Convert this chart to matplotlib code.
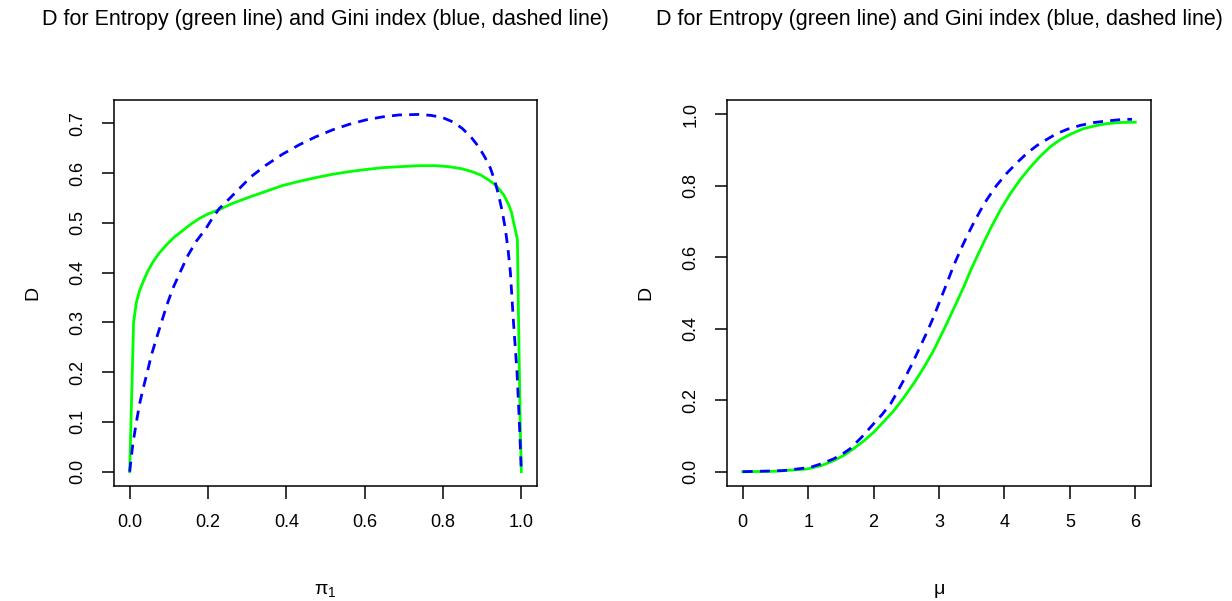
import numpy as np
import matplotlib
matplotlib.use('Agg')
import matplotlib.pyplot as plt

plt.rcParams['font.family'] = ['Liberation Sans', 'DejaVu Sans']
plt.rcParams['mathtext.fontset'] = 'custom'
plt.rcParams['mathtext.rm'] = 'Liberation Sans'
plt.rcParams['mathtext.it'] = 'Liberation Sans'

title = 'D for Entropy (green line) and Gini index (blue, dashed line)'

# left panel: D against pi_1
pi_ent = [0.0, 0.01, 0.017, 0.025, 0.034, 0.045, 0.059, 0.075, 0.093, 0.113, 0.136,
          0.157, 0.178, 0.2, 0.229, 0.265, 0.306, 0.35, 0.39, 0.43, 0.475, 0.52, 0.56,
          0.6, 0.645, 0.69, 0.739, 0.78, 0.815, 0.847, 0.874, 0.897, 0.917, 0.931,
          0.942, 0.956, 0.968, 0.975, 0.98, 0.985, 0.99, 0.993, 0.997, 1.0]
d_ent = [0.0, 0.30, 0.34, 0.363, 0.381, 0.401, 0.421, 0.439, 0.455, 0.471, 0.485,
         0.498, 0.509, 0.518, 0.527, 0.54, 0.552, 0.564, 0.575, 0.583, 0.591, 0.598,
         0.603, 0.607, 0.611, 0.613, 0.615, 0.615, 0.613, 0.609, 0.603, 0.596, 0.586,
         0.578, 0.569, 0.555, 0.536, 0.521, 0.502, 0.485, 0.466, 0.30, 0.10, 0.0]

pi_gini = [0.0, 0.008, 0.017, 0.025, 0.034, 0.045, 0.055, 0.068, 0.081, 0.095, 0.11,
           0.13, 0.149, 0.17, 0.195, 0.21, 0.229, 0.255, 0.28, 0.31, 0.348, 0.39,
           0.433, 0.475, 0.518, 0.56, 0.603, 0.645, 0.688, 0.739, 0.77, 0.798, 0.825,
           0.849, 0.871, 0.891, 0.907, 0.921, 0.932, 0.942, 0.951, 0.959, 0.966,
           0.972, 0.98, 0.989, 0.995, 1.0]
d_gini = [0.0, 0.055, 0.099, 0.135, 0.166, 0.2, 0.233, 0.267, 0.30, 0.335, 0.368,
          0.403, 0.435, 0.463, 0.489, 0.508, 0.529, 0.549, 0.569, 0.593, 0.616,
          0.638, 0.657, 0.673, 0.687, 0.698, 0.707, 0.713, 0.717, 0.718, 0.716,
          0.712, 0.703, 0.69, 0.673, 0.653, 0.632, 0.61, 0.585, 0.556, 0.524, 0.489,
          0.447, 0.401, 0.30, 0.20, 0.099, 0.0]

# right panel: D against mu
mu_ent = [0.0, 0.47, 0.98, 1.2, 1.39, 1.55, 1.69, 1.85, 2.0, 2.15, 2.31, 2.46, 2.61,
          2.77, 2.92, 3.12, 3.25, 3.38, 3.5, 3.63, 3.78, 3.94, 4.09, 4.24, 4.4, 4.55,
          4.7, 4.86, 5.03, 5.21, 5.39, 5.57, 5.78, 6.0]
dmu_ent = [0.0, 0.001, 0.0075, 0.017, 0.031, 0.046, 0.064, 0.086, 0.11, 0.139, 0.171,
           0.207, 0.246, 0.292, 0.34, 0.415, 0.466, 0.518, 0.57, 0.621, 0.678, 0.733,
           0.778, 0.817, 0.853, 0.883, 0.909, 0.93, 0.946, 0.96, 0.968, 0.974, 0.977,
           0.978]

mu_gini = [0.0, 0.62, 1.03, 1.2, 1.39, 1.52, 1.64, 1.82, 2.0, 2.13, 2.26, 2.36, 2.46,
           2.59, 2.71, 2.82, 2.92, 3.02, 3.12, 3.22, 3.33, 3.43, 3.53, 3.63, 3.73,
           3.88, 4.04, 4.2, 4.35, 4.5, 4.65, 4.8, 4.96, 5.16, 5.37, 5.6, 5.83, 5.95]
dmu_gini = [0.0, 0.003, 0.012, 0.022, 0.036, 0.049, 0.064, 0.097, 0.134, 0.16, 0.19,
            0.222, 0.256, 0.302, 0.349, 0.392, 0.434, 0.481, 0.527, 0.575, 0.621,
            0.66, 0.696, 0.73, 0.761, 0.801, 0.836, 0.866, 0.892, 0.913, 0.93, 0.946,
            0.958, 0.969, 0.977, 0.982, 0.986, 0.986]

green = '#00ff00'
blue = '#0000ff'
dash = (0, (3.6, 2.6))

fig = plt.figure(figsize=(12.32, 6.01), dpi=100)
ax1 = fig.add_axes([114 / 1232, 115 / 601, 423 / 1232, 386 / 601])
ax2 = fig.add_axes([727 / 1232, 115 / 601, 424 / 1232, 386 / 601])

panels = [
    (ax1, pi_ent, d_ent, pi_gini, d_gini, (-0.04, 1.04), (-0.0287, 0.747),
     np.arange(0, 1.01, 0.2), np.arange(0, 0.71, 0.1), '%.1f', r'$\pi_1$'),
    (ax2, mu_ent, dmu_ent, mu_gini, dmu_gini, (-0.24, 6.24), (-0.04, 1.04),
     np.arange(0, 7), np.arange(0, 1.01, 0.2), '%d', r'$\mu$'),
]

for ax, xe, ye, xg, yg, xl, yl, xt, yt, xfmt, xlab in panels:
    ax.plot(xe, ye, color=green, lw=2)
    ax.plot(xg, yg, color=blue, lw=2, linestyle=dash)
    ax.set_xlim(*xl)
    ax.set_ylim(*yl)
    ax.set_xticks(xt)
    ax.set_xticklabels([xfmt % v for v in xt])
    ax.set_yticks(yt)
    ax.set_yticklabels(['%.1f' % v for v in yt], rotation=90, va='center')
    ax.tick_params(direction='out', length=9, width=1.1, labelsize=13, pad=11)
    for s in ax.spines.values():
        s.set_linewidth(1.1)
    ax.set_xlabel(xlab, fontsize=14, labelpad=37)
    ax.set_ylabel('D', fontsize=14, labelpad=20)
    # title placed near the top edge, centred over the panel
    bb = ax.get_position()
    fig.text((bb.x0 + bb.x1) / 2, 1 - 19 / 601, title, fontsize=15.5,
             ha='center', va='center')

fig.savefig('out.png', dpi=100)
